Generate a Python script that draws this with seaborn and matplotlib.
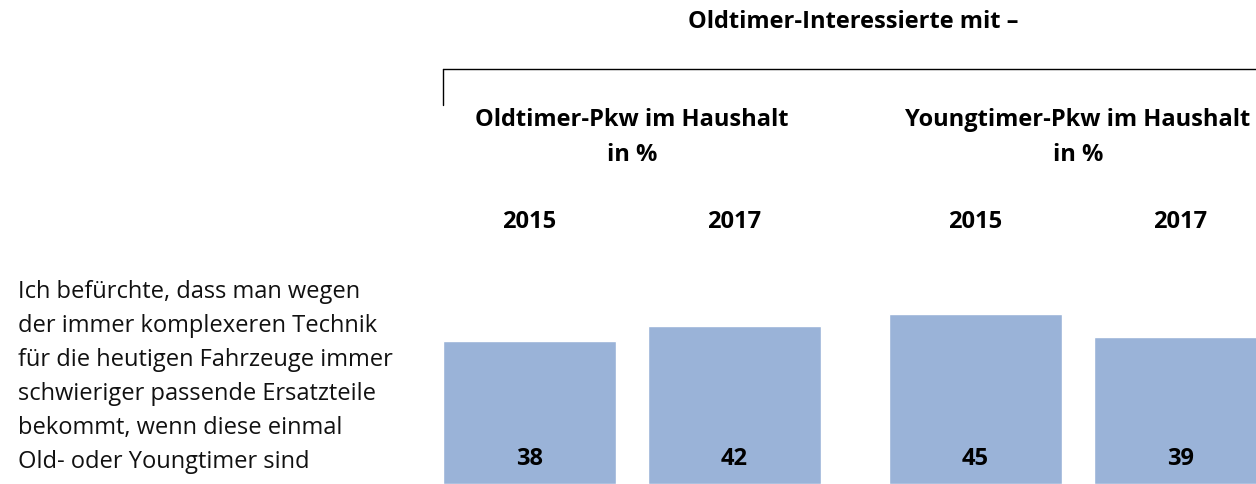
import matplotlib
matplotlib.use("Agg")
import matplotlib.pyplot as plt
import seaborn as sns
import pandas as pd
from matplotlib.lines import Line2D

# --- Data ---
GROUPS = [["Oldtimer-Pkw im Haushalt", "in %"], ["Youngtimer-Pkw im Haushalt", "in %"]]
YEARS = ["2015", "2017"]
OLD_VALUES = [38, 42]
YOUNG_VALUES = [45, 39]
HEADER = "Oldtimer-Interessierte mit –"
STATEMENT = ["Ich befürchte, dass man wegen",
             "der immer komplexeren Technik",
             "für die heutigen Fahrzeuge immer",
             "schwieriger passende Ersatzteile",
             "bekommt, wenn diese einmal",
             "Old- oder Youngtimer sind"]

BAR_COLOR = "#9ab3d8"
W, H = 1256, 485
BOLD_SIZE = 17

sns.set_theme(style="white")
plt.rcParams['font.family'] = ['Open Sans', 'DejaVu Sans']

fig = plt.figure(figsize=(W / 100, H / 100), dpi=100)


def fx(px):
    return px / W


def fy(py):
    return 1 - py / H


# one axes per group, category spacing 205 px, bars 173 px wide
unit = 205
ymax = 50
ax_h = ymax * 3.77
group_left = [529.5 - unit / 2, 975.5 - unit / 2]

for i, (label, vals) in enumerate(zip(GROUPS, [OLD_VALUES, YOUNG_VALUES])):
    df = pd.DataFrame({"Jahr": YEARS, "Wert": vals})
    ax = fig.add_axes([fx(group_left[i]), 0, fx(2 * unit), ax_h / H])
    sns.barplot(data=df, x="Jahr", y="Wert", color=BAR_COLOR, saturation=1,
                width=173 / unit, ax=ax)
    ax.set_xlim(-0.5, 1.5)
    ax.set_ylim(0, ymax)
    ax.axis("off")
    for j, v in enumerate(vals):
        ax.text(j, 7.0, str(v), ha="center", va="center", fontsize=BOLD_SIZE,
                fontweight="bold", color="black")
        fig.text(fx(group_left[i] + unit / 2 + j * unit), fy(222), YEARS[j],
                 ha="center", va="center", fontsize=BOLD_SIZE, fontweight="bold",
                 color="black")
    cx = group_left[i] + unit
    for k, line in enumerate(label):
        fig.text(fx(cx), fy(120 + 35 * k), line, ha="center", va="center",
                 fontsize=BOLD_SIZE, fontweight="bold", color="black")

fig.text(fx(853), fy(22), HEADER, ha="center", va="center", fontsize=BOLD_SIZE,
         fontweight="bold", color="black")

# bracket
fig.add_artist(Line2D([fx(443), fx(1256)], [fy(70), fy(70)], color="black", lw=1))
fig.add_artist(Line2D([fx(443), fx(443)], [fy(70), fy(106)], color="black", lw=1))

for k, line in enumerate(STATEMENT):
    fig.text(fx(18), fy(292 + 34 * k), line, ha="left", va="center",
             fontsize=17, color="#111111")

fig.savefig("out.png", dpi=100)
